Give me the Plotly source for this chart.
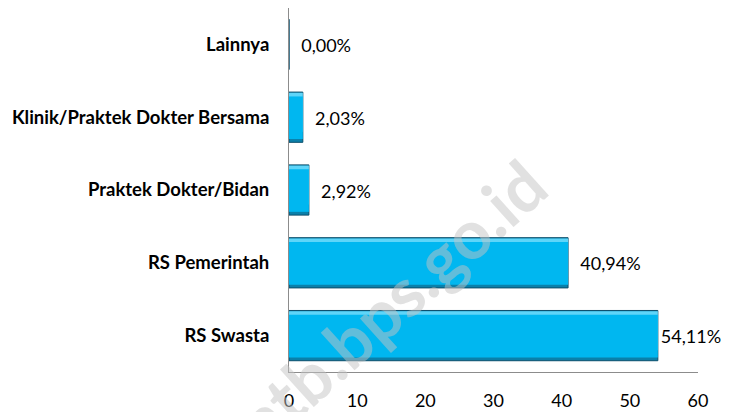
import plotly.graph_objects as go

categories = ["RS Swasta", "RS Pemerintah", "Praktek Dokter/Bidan",
              "Klinik/Praktek Dokter Bersama", "Lainnya"]
values = [54.11, 40.94, 2.92, 2.03, 0.00]
value_labels = ["54,11%", "40,94%", "2,92%", "2,03%", "0,00%"]
x_ticks = [0, 10, 20, 30, 40, 50, 60]

FONT = "Lato, 'Open Sans', sans-serif"

fig = go.Figure()
# outer dark edge / shadow
fig.add_trace(go.Bar(
    y=categories, x=values, orientation="h", width=0.69,
    marker=dict(color="#0A80AA", line=dict(color="#0B4F6C", width=1)),
    hoverinfo="skip", showlegend=False,
))
# top highlight
fig.add_trace(go.Bar(
    y=categories, x=values, orientation="h", width=0.535, offset=-0.2,
    marker=dict(color="#5ED5F9", line=dict(width=0)),
    hoverinfo="skip", showlegend=False,
))
# main face
fig.add_trace(go.Bar(
    y=categories, x=values, orientation="h", width=0.585, offset=-0.30,
    marker=dict(color="#00B7F0", line=dict(width=0)),
    text=value_labels,
    texttemplate=["%{text}", "  %{text}", "  %{text}", "  %{text}", "  %{text}"],
    textposition="outside", cliponaxis=False,
    textfont=dict(family=FONT, size=18, color="#000000"),
    showlegend=False,
))

# faint watermark
fig.add_annotation(
    text="ntb.bps.go.id", xref="paper", yref="paper", x=0.247, y=0.192,
    xanchor="center", yanchor="middle",
    showarrow=False, textangle=-42,
    font=dict(family=FONT, size=68, weight="bold", color="rgba(195,195,195,0.5)"),
)

# page body has an 8px margin, so the figure is sized to fit the window
fig.update_layout(
    width=722, height=404, barmode="overlay",
    margin=dict(l=281, r=32, t=0, b=40),
    paper_bgcolor="white", plot_bgcolor="white",
    font=dict(family=FONT, color="#000000"),
    xaxis=dict(range=[0, 60], tickvals=x_ticks, showgrid=False, zeroline=False,
               showline=True, linecolor="#8C8C8C", linewidth=1, ticks="",
               tickfont=dict(family=FONT, size=18), ticklabelstandoff=12,
               automargin=False),
    yaxis=dict(categoryorder="array", categoryarray=categories, showgrid=False,
               showline=True, linecolor="#8C8C8C", linewidth=1, ticks="",
               tickfont=dict(family=FONT, size=18.5, weight="bold"),
               ticklabelstandoff=15, automargin=False),
)

fig.write_html("out.html")
